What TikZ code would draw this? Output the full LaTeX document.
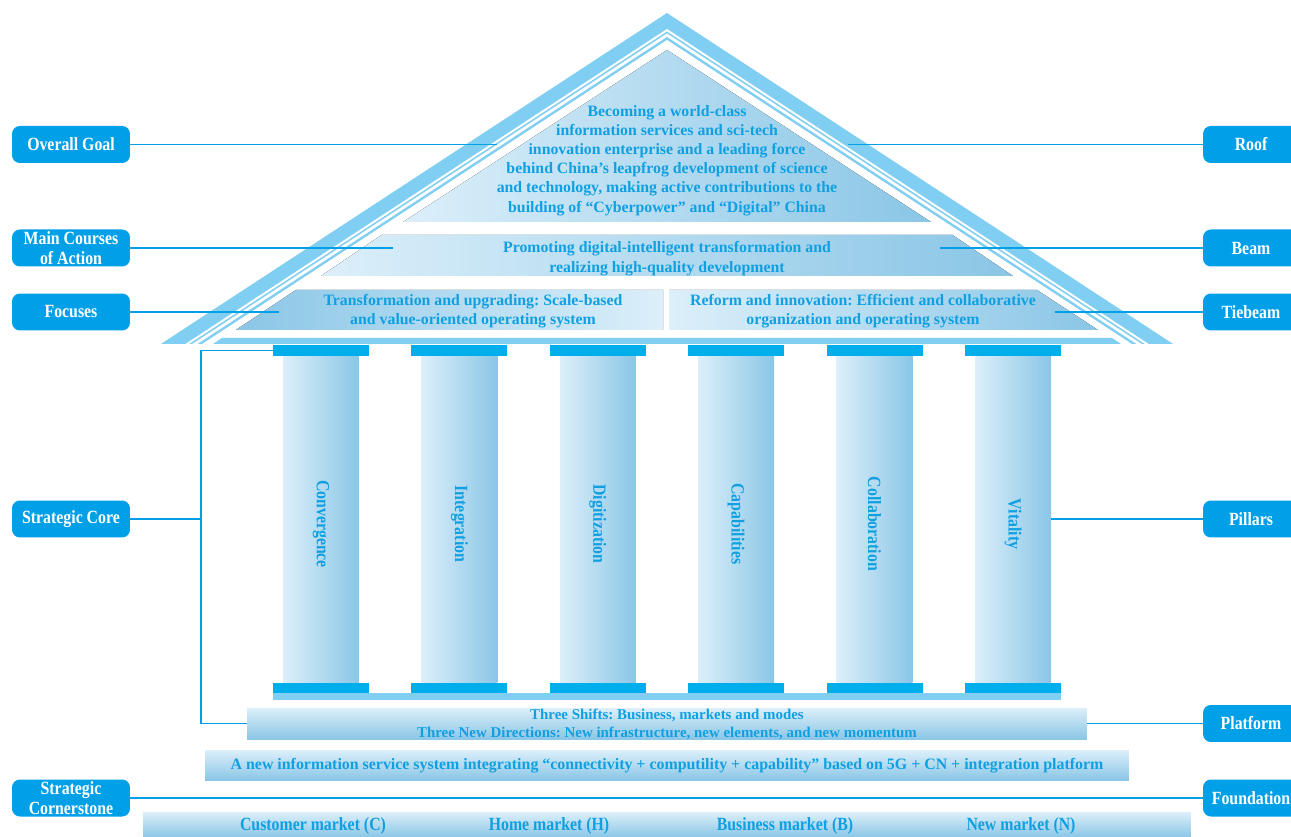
\documentclass[tikz,border=0pt]{standalone}
\usepackage{fontspec}
\setmainfont{Liberation Serif}
\newfontfamily\condserif[FakeStretch=0.85]{Liberation Serif}
\usetikzlibrary{calc}
\usepackage{xcolor}
\definecolor{labelblue}{RGB}{0,160,233}
\definecolor{textblue}{RGB}{16,160,226}
\definecolor{roofblue}{RGB}{128,206,242}
\definecolor{capblue}{RGB}{0,174,236}
\definecolor{shadelight}{RGB}{220,239,250}
\definecolor{shadedark}{RGB}{138,198,230}
\frenchspacing

\tikzset{
  tag/.style={fill=labelblue,text=white,rounded corners=4.5pt,minimum height=0.74cm,inner sep=0pt,align=center,font=\condserif\bfseries\fontsize{10.6}{11.4}\selectfont},
  tagleft/.style={tag,minimum width=2.36cm},
  tagright/.style={tag,minimum width=1.92cm},
  link/.style={draw=labelblue,line width=1.1pt},
  rooftext/.style={text=textblue,align=center,inner sep=0pt,font=\bfseries\fontsize{9}{10.9}\selectfont},
  capbar/.style={fill=capblue,minimum width=1.92cm,minimum height=0.212cm,inner sep=0pt},
  shaft/.style={left color=shadelight,right color=shadedark,minimum width=1.52cm,minimum height=6.54cm,inner sep=0pt},
  pillartext/.style={text=textblue,rotate=-90,inner sep=0pt,font=\condserif\bfseries\fontsize{10.6}{12}\selectfont},
  basebar/.style={top color=shadelight,bottom color=shadedark,inner sep=0pt},
  bartext/.style={text=textblue,align=center,inner sep=0pt,font=\bfseries\fontsize{8.5}{10.2}\selectfont},
  markettext/.style={text=textblue,inner sep=0pt,font=\condserif\bfseries\fontsize{10.6}{12}\selectfont}
}

\begin{document}
\begin{tikzpicture}[x=0.02cm,y=-0.02cm]
\newcommand{\rooflayer}[2]{
  \fill[#2] (667,#1) -- ({667-(344-#1)/0.654},344) -- ({667+(344-#1)/0.654},344) -- cycle;
}
\useasboundingbox (0,0) rectangle (1291,837);

\rooflayer{13}{roofblue}
\rooflayer{29}{white}
\rooflayer{31.5}{roofblue}
\rooflayer{33.5}{white}
\rooflayer{37}{roofblue}
\rooflayer{40}{white}

\fill[left color=shadelight,right color=shadedark] (667,50) -- (931,222) -- (403,222) -- cycle;
\fill[left color=shadelight,right color=shadedark] (381.5,235) -- (952.5,235) -- (1013,276) -- (321,276) -- cycle;
\fill[left color=shadedark,right color=shadelight] (296,290) -- (663,290) -- (663,330) -- (236,330) -- cycle;
\fill[left color=shadelight,right color=shadedark] (669,290) -- (1037,290) -- (1098,330) -- (669,330) -- cycle;
\fill[roofblue] (222,338) -- (1112,338) -- (1121,344) -- (213,344) -- cycle;

\node[rooftext] (goal) at (667,160.5) {Becoming a world-class\\information services and sci-tech\\innovation enterprise and a leading force\\behind China’s leapfrog development of science\\and technology, making active contributions to the\\building of “Cyberpower” and “Digital” China};
\node[rooftext,font=\bfseries\fontsize{9}{11.2}\selectfont] (beam) at (667,259) {Promoting digital-intelligent transformation and\\realizing high-quality development};
\node[rooftext] (tieleft) at (473,311.5) {Transformation and upgrading: Scale-based\\and value-oriented operating system};
\node[rooftext] (tieright) at (863,311.5) {Reform and innovation: Efficient and collaborative\\organization and operating system};

\foreach \pname [count=\i] in {Convergence,Integration,Digitization,Capabilities,Collaboration,Vitality}{
  \pgfmathsetmacro{\px}{321+(\i-1)*138.4}
  \node[shaft] (shaft\i) at (\px,519.2) {};
  \node[capbar] (captop\i) at (\px,350.4) {};
  \node[capbar] (capbot\i) at (\px,688) {};
  \node[pillartext] (ptext\i) at (\px,524) {\pname};
}
\fill[roofblue] (273,693.3) rectangle (1061,700);

\node[basebar,minimum width=16.8cm,minimum height=0.62cm] (platform) at (667,723.5) {};
\node[bartext] (shifts) at (667,724) {Three Shifts: Business, markets and modes\\Three New Directions: New infrastructure, new elements, and new momentum};
\node[basebar,minimum width=18.48cm,minimum height=0.6cm] (system) at (667,765) {};
\node[bartext,font=\bfseries\fontsize{9.05}{10}\selectfont] (systext) at (667,766) {A new information service system integrating “connectivity + computility + capability” based on 5G + CN + integration platform};
\node[basebar,minimum width=20.96cm,minimum height=0.5cm] (markets) at (667,824.5) {};
\node[markettext] (mktC) at (313,826) {Customer market (C)};
\node[markettext] (mktH) at (549,826) {Home market (H)};
\node[markettext] (mktB) at (785,826) {Business market (B)};
\node[markettext] (mktN) at (1021,826) {New market (N)};

\node[tagleft] (goalTag) at (71,144.5) {Overall Goal};
\node[tagleft] (courseTag) at (71,248) {Main Courses\\of Action};
\node[tagleft] (focusTag) at (71,312) {Focuses};
\node[tagleft] (coreTag) at (71,519) {Strategic Core};
\node[tagleft] (cornerTag) at (71,798) {Strategic\\Cornerstone};

\node[tagright] (roofTag) at (1251,144.5) {Roof};
\node[tagright] (beamTag) at (1251,248) {Beam};
\node[tagright] (tiebeamTag) at (1251,312) {Tiebeam};
\node[tagright] (pillarsTag) at (1251,519) {Pillars};
\node[tagright] (platformTag) at (1251,723.5) {Platform};
\node[tagright] (foundTag) at (1251,798) {Foundation};

\coordinate (goalEnd) at (497,144.5);
\coordinate (roofEnd) at (848,144.5);
\coordinate (courseEnd) at (393,248);
\coordinate (beamEnd) at (940,248);
\coordinate (focusEnd) at (279,312);
\coordinate (tiebeamEnd) at (1055,312);
\coordinate (coreJoin) at (201,519);

\draw[link] (goalTag) -- (goalEnd);
\draw[link] (roofEnd) -- (roofTag);
\draw[link] (courseTag) -- (courseEnd);
\draw[link] (beamEnd) -- (beamTag);
\draw[link] (focusTag) -- (focusEnd);
\draw[link] (tiebeamEnd) -- (tiebeamTag);
\draw[link] (coreTag) -- (coreJoin);
\draw[link,line width=0.9pt] (captop1.west) -| (coreJoin) |- (platform.west);
\draw[link] (shaft6.east |- pillarsTag) -- (pillarsTag);
\draw[link] (platform.east) -- (platformTag);
\draw[link] (cornerTag) -- (foundTag);

\end{tikzpicture}
\end{document}
